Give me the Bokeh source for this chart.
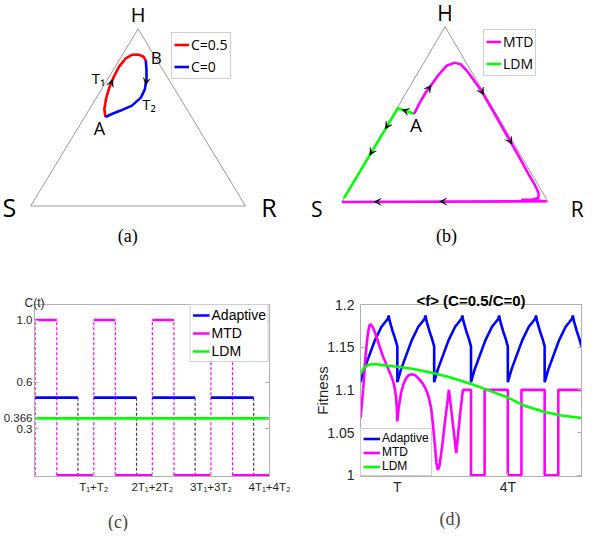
import numpy as np
from bokeh.plotting import figure
from bokeh.layouts import column, row
from bokeh.models import (Range1d, Legend, LegendItem, Label, Arrow, VeeHead,
                          FixedTicker, LinearAxis)
from bokeh.embed import file_html
from bokeh.resources import INLINE

# ============================ data ============================
# (a) ternary trajectory: fractions of H and R (S = 1 - H - R)
a_c05_h = [0.503, 0.548, 0.603, 0.667, 0.722, 0.786, 0.832, 0.854, 0.855, 0.844, 0.822]
a_c05_r = [0.096, 0.069, 0.049, 0.032, 0.023, 0.018, 0.025, 0.044, 0.074, 0.102, 0.125]
a_c0_h = [0.822, 0.768, 0.713, 0.658, 0.612, 0.567, 0.539, 0.521, 0.503]
a_c0_r = [0.125, 0.155, 0.183, 0.202, 0.207, 0.188, 0.149, 0.120, 0.096]
a_c05_arrows = [(3, 0.65)]          # (segment index, fraction along it)
a_c0_arrows = [(2, 0.33)]

# (b) ternary trajectories for MTD and LDM
b_mtd_h = [0.503, 0.558, 0.623, 0.660, 0.725, 0.777, 0.795, 0.784, 0.743, 0.688, 0.633,
           0.522, 0.392, 0.263, 0.162, 0.097, 0.051, 0.023, 0.014, 0.012, 0.004, 0.000]
b_mtd_r = [0.099, 0.095, 0.094, 0.099, 0.106, 0.119, 0.150, 0.186, 0.238, 0.300, 0.360,
           0.470, 0.598, 0.725, 0.822, 0.887, 0.928, 0.941, 0.918, 0.863, 0.990, 0.000]
b_ldm_h = [0.503, 0.535, 0.020]
b_ldm_r = [0.099, 0.004, 0.000]
b_mtd_arrows = [(2, 0.9), (10, 0.1), (12, 0.4), (20, 0.51), (20, 0.83)]
b_ldm_arrows = [(0, 0.6), (1, 0.21), (1, 0.5)]

# (c) dosing schedules C(t); time in cycles of T1+T2
c_cycle_start = [0, 1, 2, 3]
c_cycle_end = [1, 2, 3, 4]
c_adaptive_off = [0.73, 1.73, 2.73, 3.73]
c_mtd_off = [0.368, 1.368, 2.368, 3.368]
c_adaptive_dose = 0.5
c_mtd_dose = 1.0
c_ldm_dose = 0.366
c_yticks = [0.3, 0.366, 0.6, 1.0]
c_ylabels = ["0.3", "0.366", "0.6", "1.0"]
c_xticks = [1, 2, 3, 4]
c_xlabels = ["T\u2081+T\u2082", "2T\u2081+2T\u2082", "3T\u2081+3T\u2082", "4T\u2081+4T\u2082"]

# (d) mean fitness <f>; time in units of T
d_adaptive_t = [0.00, 0.10, 0.22, 0.39, 0.57, 0.70, 0.74, 0.765, 0.79, 0.87, 0.94, 1.00,
                1.00, 1.10, 1.22, 1.39, 1.57, 1.70, 1.74, 1.765, 1.79, 1.87, 1.94, 2.00,
                2.00, 2.10, 2.22, 2.39, 2.57, 2.70, 2.74, 2.765, 2.79, 2.87, 2.94, 3.00,
                3.00, 3.10, 3.22, 3.39, 3.57, 3.70, 3.74, 3.765, 3.79, 3.87, 3.94, 4.00,
                4.00, 4.10, 4.22, 4.39, 4.57, 4.70, 4.74, 4.765, 4.79, 4.87, 4.94, 5.00,
                5.00, 5.10, 5.22, 5.39, 5.57, 5.70, 5.74, 5.765, 5.79, 5.87, 5.94, 6.00]
d_adaptive_f = [1.109, 1.124, 1.138, 1.158, 1.174, 1.181, 1.183, 1.187, 1.181, 1.169, 1.160, 1.151,
                1.109, 1.124, 1.138, 1.158, 1.174, 1.181, 1.183, 1.187, 1.181, 1.169, 1.160, 1.151,
                1.109, 1.124, 1.138, 1.158, 1.174, 1.181, 1.183, 1.187, 1.181, 1.169, 1.160, 1.151,
                1.109, 1.124, 1.138, 1.158, 1.174, 1.181, 1.183, 1.187, 1.181, 1.169, 1.160, 1.151,
                1.109, 1.124, 1.138, 1.158, 1.174, 1.181, 1.183, 1.187, 1.181, 1.169, 1.160, 1.151,
                1.109, 1.124, 1.138, 1.158, 1.174, 1.181, 1.183, 1.187, 1.181, 1.169, 1.160, 1.151]
d_mtd_t = [0.00, 0.04, 0.08, 0.12, 0.16, 0.20, 0.24, 0.27, 0.31, 0.35, 0.42, 0.48, 0.55, 0.61,
           0.68, 0.74, 0.81, 0.88, 0.93, 0.96, 0.985, 1.00,
           1.04, 1.10, 1.16, 1.23, 1.30, 1.36, 1.43, 1.49, 1.56, 1.62, 1.68, 1.75, 1.81, 1.86,
           1.92, 1.97, 2.02, 2.06, 2.10, 2.14, 2.22, 2.30, 2.40,
           2.50, 2.60, 2.70, 2.78, 3.00, 3.00, 3.37, 3.37, 4.00, 4.00, 4.37, 4.37, 5.00, 5.00,
           5.37, 5.37, 6.00]
d_mtd_f = [1.067, 1.085, 1.105, 1.130, 1.150, 1.166, 1.175, 1.177, 1.175, 1.172, 1.164, 1.156,
           1.147, 1.139, 1.132, 1.126, 1.119, 1.111, 1.102, 1.093, 1.080, 1.063,
           1.080, 1.096, 1.106, 1.113, 1.117, 1.118, 1.118, 1.117, 1.114, 1.111, 1.108, 1.103,
           1.097, 1.090, 1.078, 1.058, 1.035, 1.015, 1.006, 1.010, 1.035, 1.065, 1.100,
           1.063, 1.026, 1.070, 1.100, 1.100, 1.000, 1.000, 1.100, 1.100, 1.000, 1.000, 1.100,
           1.100, 1.000, 1.000, 1.100, 1.100]
d_ldm_t = [0.0, 0.1, 0.2, 0.3, 0.45, 0.6, 0.8, 1.0, 1.36, 1.7, 2.04, 2.4, 2.7, 3.0, 3.44,
           4.0, 4.47, 5.0, 5.45, 6.0]
d_ldm_f = [1.119, 1.126, 1.129, 1.130, 1.130, 1.129, 1.128, 1.127, 1.125, 1.122, 1.119,
           1.115, 1.111, 1.107, 1.100, 1.091, 1.081, 1.074, 1.070, 1.067]
d_yticks = [1.0, 1.05, 1.1, 1.15, 1.2]
d_ylabels = ["1", "1.05", "1.1", "1.15", "1.2"]
d_xticks = [1, 4]
d_xlabels = ["T", "4T"]

# ============================ style ============================
SX, SY = 584 / 600, 531 / 547          # reference picture -> page scale
FW, TOP_H, BOT_H, CAP_H = 292, 262, 241, 28
FRAME = "#b0b0b0"
TXT = "#262626"
BLUE, MAG, GRN, RED = "#0000ff", "#ff00ff", "#00ff00", "#ff0000"
SANS = "Liberation Sans"
TSANS = "Open Sans"
SERIF = "Liberation Serif"


def tern(h, r):
    h = np.asarray(h, float)
    r = np.asarray(r, float)
    return r + h / 2.0, h


def no_grid(p):
    p.xgrid.visible = False
    p.ygrid.visible = False


class TernaryPanel:
    def __init__(self, ox, oy, height, S_ref, R_ref, H_ref):
        self.ox, self.oy = ox, oy
        self.left = S_ref[0] * SX - ox
        self.right = R_ref[0] * SX - ox
        self.bottom = S_ref[1] * SY - oy
        self.top = H_ref[1] * SY - oy
        self.kx = self.right - self.left
        self.ky = self.bottom - self.top
        xr = Range1d(-self.left / self.kx, (FW - self.left) / self.kx)
        yr = Range1d(-(height - self.bottom) / self.ky, self.bottom / self.ky)
        p = figure(width=FW, height=height, x_range=xr, y_range=yr,
                   output_backend="svg", toolbar_location=None,
                   x_axis_location=None, y_axis_location=None, min_border=0)
        p.outline_line_color = None
        no_grid(p)
        self.p = p

    def at_ref(self, rx, ry):
        px = rx * SX - self.ox
        py = ry * SY - self.oy
        return (px - self.left) / self.kx, (self.bottom - py) / self.ky

    def shift(self, x, y, dx, dy):
        return x + dx * SX / self.kx, y - dy * SY / self.ky

    def text(self, x, y, s, size, font=TSANS, color="black"):
        self.p.add_layout(Label(x=x, y=y, text=s, text_font=font,
                                text_font_size=size, text_color=color,
                                text_align="center", text_baseline="middle"))


def add_arrows(p, xs, ys, spec):
    for i, f in spec:
        x0, y0, x1, y1 = xs[i], ys[i], xs[i + 1], ys[i + 1]
        dx, dy = x1 - x0, y1 - y0
        n = np.hypot(dx, dy)
        ux, uy = dx / n, dy / n
        xe, ye = x0 + f * dx, y0 + f * dy
        p.add_layout(Arrow(end=VeeHead(size=7, fill_color="black", line_color="black",
                                       line_width=0.5),
                           x_start=xe - 0.02 * ux, y_start=ye - 0.02 * uy,
                           x_end=xe + 0.012 * ux, y_end=ye + 0.012 * uy,
                           line_alpha=0.0))


def style_legend(lg, font, size, glyph_w, item_h, spacing, padding):
    lg.label_text_font = font
    lg.label_text_font_size = size
    lg.label_text_color = "black"
    lg.glyph_width = glyph_w
    lg.glyph_height = item_h
    lg.label_height = item_h
    lg.spacing = spacing
    lg.padding = padding
    lg.margin = 0
    lg.label_standoff = 2
    lg.border_line_color = "#a0a0a0"
    lg.border_line_width = 1
    lg.background_fill_color = "white"
    lg.background_fill_alpha = 1.0


# ============================ (a) ============================
A = TernaryPanel(0, 0, TOP_H, (31, 211.7), (251.7, 211.7), (140.7, 29.3))
pa = A.p
tx, ty = tern([0, 0, 1, 0], [0, 1, 0, 0])
pa.line(tx, ty, line_color="#9a9a9a", line_width=1)
rx_, ry_ = tern(a_c05_h, a_c05_r)
bx_, by_ = tern(a_c0_h, a_c0_r)
r_red = pa.line(rx_, ry_, line_color=RED, line_width=2.6)
r_blue = pa.line(bx_, by_, line_color=BLUE, line_width=2.6)
add_arrows(pa, rx_, ry_, a_c05_arrows)
add_arrows(pa, bx_, by_, a_c0_arrows)
lga = Legend(items=[LegendItem(label="C=0.5", renderers=[r_red]),
                    LegendItem(label="C=0", renderers=[r_blue])])
style_legend(lga, TSANS, "14px", 15, 19, 3, 2)
lga.location = (171, 183)
pa.add_layout(lga)
for (vx, vy), s, off, size in [((0.5, 1.0), "H", (0, -15.0), "20px"),
                               ((0.0, 0.0), "S", (-21.8, 1.3), "25px"),
                               ((1.0, 0.0), "R", (24.1, 1.3), "25px")]:
    x, y = A.shift(vx, vy, *off)
    A.text(x, y, s, size)
x, y = A.shift(rx_[0], ry_[0], -6, 11.7)
A.text(x, y, "A", "18px")
x, y = A.shift(rx_[-1], ry_[-1], 10.7, -3.4)
A.text(x, y, "B", "17px")
x, y = A.shift(rx_[4], ry_[4], -15.2, 0)
A.text(x, y, "T\u2081", "15px")
x, y = A.shift(bx_[4], by_[4], 8.4, 6.7)
A.text(x, y, "T\u2082", "15px")
x, y = A.at_ref(130.8, 242.5)
A.text(x, y, "(a)", "18px", font=SERIF)

# ============================ (b) ============================
B = TernaryPanel(292, 0, TOP_H, (350.7, 207.5), (562.7, 207.5), (457, 27))
pb = B.p
pb.line(tx, ty, line_color="#9a9a9a", line_width=1)
mx_, my_ = tern(b_mtd_h, b_mtd_r)
gx_, gy_ = tern(b_ldm_h, b_ldm_r)
r_ldm_b = pb.line(gx_, gy_, line_color=GRN, line_width=2.6)
r_mtd_b = pb.line(mx_, my_, line_color=MAG, line_width=2.6)
add_arrows(pb, mx_, my_, b_mtd_arrows)
add_arrows(pb, gx_, gy_, b_ldm_arrows)
lgb = Legend(items=[LegendItem(label="MTD", renderers=[r_mtd_b]),
                    LegendItem(label="LDM", renderers=[r_ldm_b])])
style_legend(lgb, TSANS, "14px", 15, 19, 3, 2)
lgb.location = (191, 186)
pb.add_layout(lgb)
for (vx, vy), s, off in [((0.5, 1.0), "H", (0, -13.8)),
                         ((0.0, 0.0), "S", (-25.7, 7.5)),
                         ((1.0, 0.0), "R", (29.8, 7.5))]:
    x, y = B.shift(vx, vy, *off)
    B.text(x, y, s, "21px")
x, y = B.shift(mx_[0], my_[0], 2, 12)
B.text(x, y, "A", "19px")
x, y = B.at_ref(458.3, 242.5)
B.text(x, y, "(b)", "18px", font=SERIF)


# ============================ cartesian helpers ============================
def cart_panel(height, borders, xr, yr):
    l, r, t, b = borders
    p = figure(width=FW, height=height, x_range=Range1d(*xr), y_range=Range1d(*yr),
               output_backend="svg", toolbar_location=None,
               min_border_left=l, min_border_right=r, min_border_top=t,
               min_border_bottom=b)
    p.outline_line_color = FRAME
    no_grid(p)
    return p


def style_axes(p, xticks, xlabels, yticks, ylabels, fsize, xstand, ystand):
    xa, ya = p.below[0], p.left[0]
    xa.ticker = FixedTicker(ticks=xticks)
    xa.major_label_overrides = dict(zip(xticks, xlabels))
    ya.ticker = FixedTicker(ticks=yticks)
    ya.major_label_overrides = dict(zip(yticks, ylabels))
    for ax in (xa, ya):
        ax.axis_line_color = FRAME
        ax.major_tick_line_color = FRAME
        ax.minor_tick_line_color = None
        ax.major_tick_in = 4
        ax.major_tick_out = 0
        ax.major_label_text_font = SANS
        ax.major_label_text_font_size = fsize
        ax.major_label_text_color = TXT
    xa.major_label_standoff = xstand
    ya.major_label_standoff = ystand
    p.add_layout(LinearAxis(ticker=FixedTicker(ticks=yticks),
                            major_label_overrides={t: "" for t in yticks},
                            major_label_text_font_size="1px",
                            major_label_standoff=0,
                            major_tick_in=4, major_tick_out=0,
                            axis_line_color=FRAME, major_tick_line_color=FRAME,
                            minor_tick_line_color=None), "right")
    return xa, ya


# ============================ (c) ============================
pc = cart_panel(BOT_H, (32, 23, 28, 27), (-0.012, 4.0), (-0.008, 1.1))
style_axes(pc, c_xticks, c_xlabels, c_yticks, c_ylabels, "11.5px", 4, 2)
pc.title.text = "C(t)"
pc.title.align = "left"
pc.title.offset = -10
pc.title.standoff = -10
pc.title.text_font = SANS
pc.title.text_font_size = "12px"
pc.title.text_font_style = "normal"
pc.title.text_color = TXT
n = len(c_cycle_start)
mtd_switch = list(c_cycle_start) + list(c_mtd_off)
pc.segment(x0=mtd_switch, y0=[0.0] * len(mtd_switch), x1=mtd_switch,
           y1=[c_mtd_dose] * len(mtd_switch), line_color=MAG, line_width=1.2,
           line_dash="3 2")
pc.segment(x0=c_adaptive_off, y0=[c_adaptive_dose] * n, x1=c_adaptive_off,
           y1=[0.0] * n, line_color="#404040", line_width=1.2, line_dash="3 2")
r_ad = pc.segment(x0=c_cycle_start, y0=[c_adaptive_dose] * n, x1=c_adaptive_off,
                  y1=[c_adaptive_dose] * n, line_color=BLUE, line_width=2.7)
pc.segment(x0=c_mtd_off, y0=[0.0] * n, x1=c_cycle_end, y1=[0.0] * n,
           line_color=MAG, line_width=2.7)
r_mt = pc.segment(x0=c_cycle_start, y0=[c_mtd_dose] * n, x1=c_mtd_off,
                  y1=[c_mtd_dose] * n, line_color=MAG, line_width=2.7)
r_ld = pc.segment(x0=[c_cycle_start[0]], y0=[c_ldm_dose], x1=[c_cycle_end[-1]],
                  y1=[c_ldm_dose], line_color=GRN, line_width=2.7)
lgc = Legend(items=[LegendItem(label="Adaptive", renderers=[r_ad]),
                    LegendItem(label="MTD", renderers=[r_mt]),
                    LegendItem(label="LDM", renderers=[r_ld])])
style_legend(lgc, SANS, "14px", 17, 16, 2, 2)
lgc.location = "top_right"
pc.add_layout(lgc)

# ============================ (d) ============================
pd_ = cart_panel(BOT_H, (68, 3, 42, 24), (0.0, 6.0), (0.9985, 1.2))
xa_d, ya_d = style_axes(pd_, d_xticks, d_xlabels, d_yticks, d_ylabels, "14px", 2, 6)
pd_.title.text = "<f> (C=0.5/C=0)"
pd_.title.align = "center"
pd_.title.standoff = -8
pd_.title.text_font = SANS
pd_.title.text_font_size = "15px"
pd_.title.text_font_style = "bold"
pd_.title.text_color = "black"
ya_d.axis_label = "Fitness"
ya_d.axis_label_text_font = SANS
ya_d.axis_label_text_font_size = "15px"
ya_d.axis_label_text_font_style = "normal"
ya_d.axis_label_text_color = TXT
ya_d.axis_label_standoff = -7
r_ad_d = pd_.line(d_adaptive_t, d_adaptive_f, line_color=BLUE, line_width=2.6)
r_mt_d = pd_.line(d_mtd_t, d_mtd_f, line_color=MAG, line_width=2.6)
r_ld_d = pd_.line(d_ldm_t, d_ldm_f, line_color=GRN, line_width=2.6)
lgd = Legend(items=[LegendItem(label="Adaptive", renderers=[r_ad_d]),
                    LegendItem(label="MTD", renderers=[r_mt_d]),
                    LegendItem(label="LDM", renderers=[r_ld_d])])
style_legend(lgd, SANS, "12px", 17, 13, 0, 2)
lgd.location = "bottom_left"
pd_.add_layout(lgd)

# ============================ captions (c), (d) ============================
cap = figure(width=2 * FW, height=CAP_H, x_range=Range1d(0, 2 * FW),
             y_range=Range1d(0, CAP_H), output_backend="svg", toolbar_location=None,
             x_axis_location=None, y_axis_location=None, min_border=0)
cap.outline_line_color = None
no_grid(cap)
cap_oy = TOP_H + BOT_H
for s, rx, ry in [("(c)", 120.8, 536.7), ("(d)", 461.7, 534.0)]:
    cap.add_layout(Label(x=rx * SX, y=CAP_H - (ry * SY - cap_oy), text=s,
                         text_font=SERIF, text_font_size="18px",
                         text_align="center", text_baseline="middle"))

layout = column(row(pa, pb), row(pc, pd_), cap)
open("out.html", "w").write(file_html(layout, INLINE))
